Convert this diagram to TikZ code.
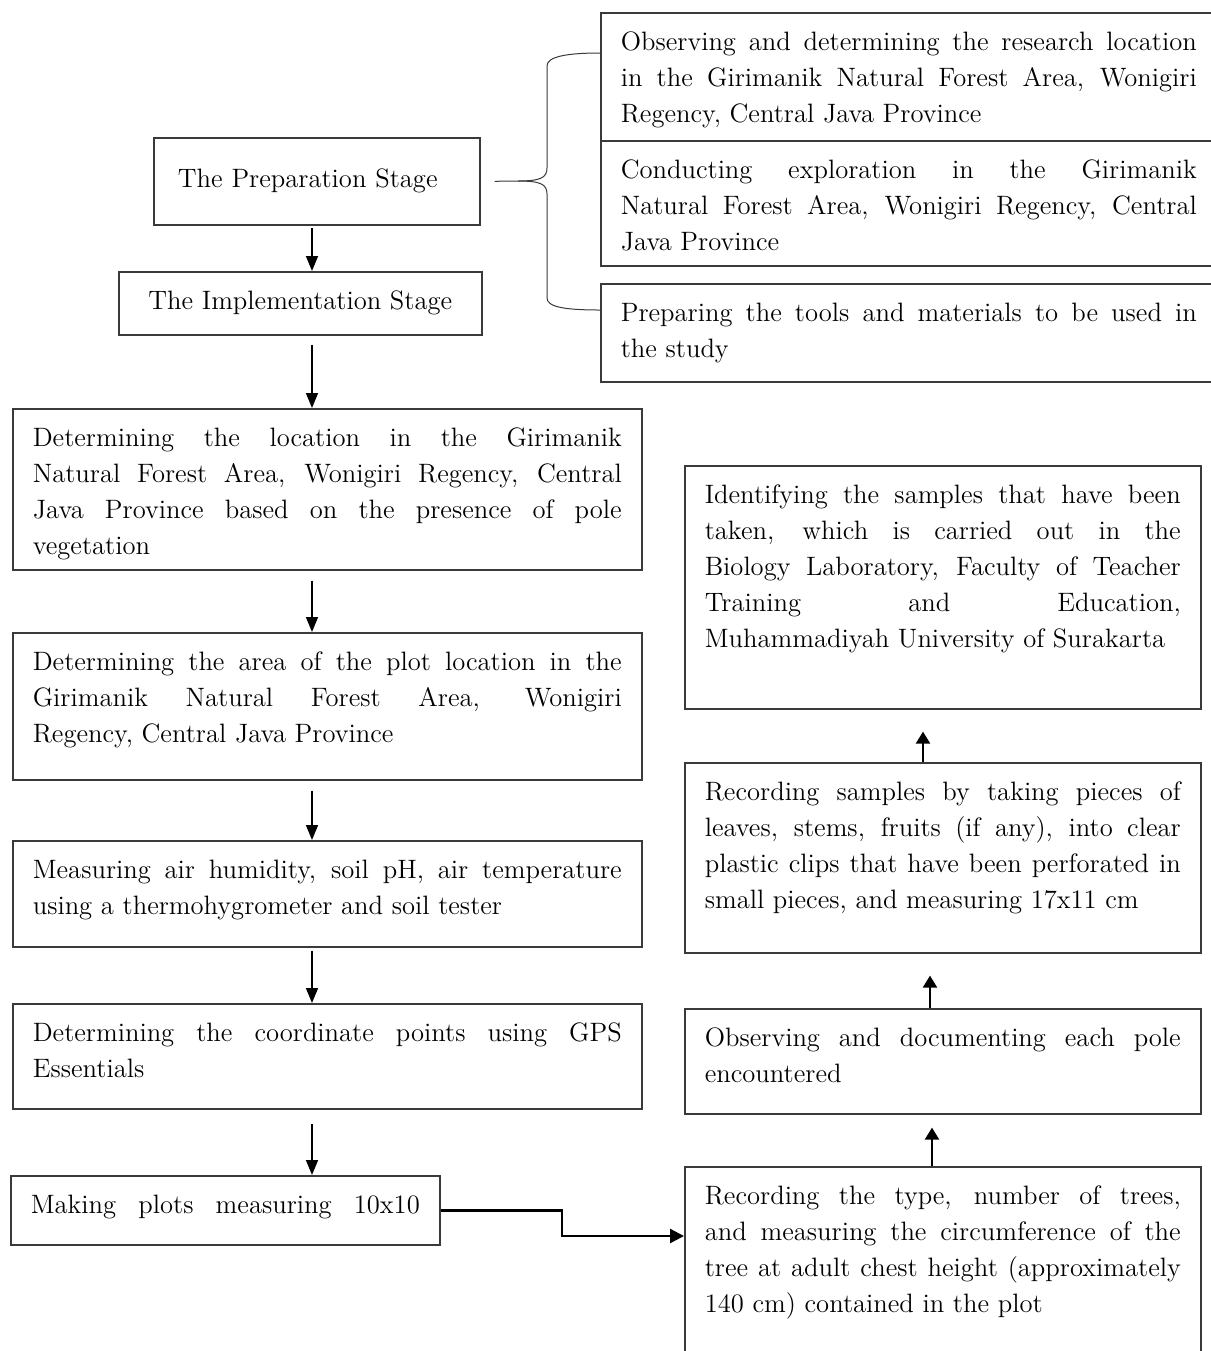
\documentclass[tikz,border=0pt]{standalone}
\usepackage{tikz}
\usetikzlibrary{arrows.meta,calc}
\definecolor{boxline}{HTML}{3A3A3A}
\newcommand{\boxtext}[3]{\parbox[c][#2][t]{#1}{#3}}
\newcommand{\justline}[1]{\makebox[\linewidth][s]{\strut#1}\par}
\newcommand{\plainline}[1]{\strut#1\par}

\begin{document}
\begin{tikzpicture}[
  x=0.5pt, y=-0.5pt,
  font=\fontsize{13.3}{18}\selectfont,
  stagebox/.style={draw=boxline, line width=0.8pt, anchor=north west, inner sep=0pt},
  stepbox/.style={draw=boxline, line width=0.8pt, anchor=north west,
    inner xsep=10pt, inner ysep=6pt},
  downarr/.style={-{Triangle[length=7.5pt,width=6pt]}, line width=0.8pt},
  uparr/.style={-{Triangle[length=6pt,width=7pt]}, line width=1.1pt},
  elbowarr/.style={-{Triangle[length=7pt,width=7pt]}, line width=1.2pt},
  brace/.style={draw=boxline, line width=0.5pt},
]
\path[use as bounding box, fill=white] (0,0) rectangle (1211,1351);
\clip (0,0) rectangle (1211,1351);

% stages
\node[stagebox, minimum width=163pt, minimum height=43.5pt, text width=139pt,
  inner xsep=12pt, text depth=3pt, align=left] (prepstage) at (153,137) {The Preparation Stage};
\node[stagebox, minimum width=181.5pt, minimum height=31.5pt, align=center]
  (implstage) at (118,271) {The Implementation Stage};

% preparation steps
\node[stepbox] (locsurvey) at (600,12) {\boxtext{288pt}{52pt}{%
  \justline{Observing and determining the research location}%
  \justline{in the Girimanik Natural Forest Area, Wonigiri}%
  \plainline{Regency, Central Java Province}}};
\node[stepbox] (explore) at (600,140) {\boxtext{288pt}{50.5pt}{%
  \justline{Conducting exploration in the Girimanik}%
  \justline{Natural Forest Area, Wonigiri Regency, Central}%
  \plainline{Java Province}}};
\node[stepbox] (tools) at (600,283) {\boxtext{288pt}{37pt}{%
  \justline{Preparing the tools and materials to be used in}%
  \plainline{the study}}};

% implementation steps, left column
\node[stepbox] (plotsite) at (12,408) {\boxtext{294.5pt}{68.5pt}{%
  \justline{Determining the location in the Girimanik}%
  \justline{Natural Forest Area, Wonigiri Regency, Central}%
  \justline{Java Province based on the presence of pole}%
  \plainline{vegetation}}};
\node[stepbox] (plotarea) at (12,632) {\boxtext{294.5pt}{61.5pt}{%
  \justline{Determining the area of the plot location in the}%
  \justline{Girimanik Natural Forest Area, Wonigiri}%
  \plainline{Regency, Central Java Province}}};
\node[stepbox] (climate) at (12,840) {\boxtext{294.5pt}{41pt}{%
  \justline{Measuring air humidity, soil pH, air temperature}%
  \plainline{using a thermohygrometer and soil tester}}};
\node[stepbox] (gps) at (12,1003) {\boxtext{294.5pt}{40.5pt}{%
  \justline{Determining the coordinate points using GPS}%
  \plainline{Essentials}}};
\node[stepbox] (plots) at (10,1175) {\boxtext{194.5pt}{22.5pt}{%
  \justline{Making plots measuring 10x10}}};

% implementation steps, right column
\node[stepbox] (identify) at (684,465) {\boxtext{238pt}{109.5pt}{%
  \justline{Identifying the samples that have been}%
  \justline{taken, which is carried out in the}%
  \justline{Biology Laboratory, Faculty of Teacher}%
  \justline{Training and Education,}%
  \plainline{Muhammadiyah University of Surakarta}}};
\node[stepbox] (samplerec) at (684,762) {\boxtext{238pt}{83pt}{%
  \justline{Recording samples by taking pieces of}%
  \justline{leaves, stems, fruits (if any), into clear}%
  \justline{plastic clips that have been perforated in}%
  \plainline{small pieces, and measuring 17x11 cm}}};
\node[stepbox] (poledoc) at (684,1008) {\boxtext{238pt}{40.5pt}{%
  \justline{Observing and documenting each pole}%
  \plainline{encountered}}};
\node[stepbox] (treerec) at (684,1166) {\boxtext{238pt}{88pt}{%
  \justline{Recording the type, number of trees,}%
  \justline{and measuring the circumference of the}%
  \justline{tree at adult chest height (approximately}%
  \plainline{140 cm) contained in the plot}}};

% brace
\coordinate (btip) at ($(prepstage.east)+(14,0)$);
\draw[brace] (btip) -- (518,181) .. controls (540,181) and (547,178) .. (547,168)
  -- (547,66) .. controls (547,57) and (565,53) .. (locsurvey.west |- 0,53);
\draw[brace] (518,181) .. controls (540,181) and (547,184) .. (547,194)
  -- (547,298) .. controls (547,307) and (565,310) .. (tools.west |- 0,310);

% arrows
\coordinate (spine) at (312,0);
\draw[downarr] ($(prepstage.south -| spine)+(0,2)$) -- (implstage.north -| spine);
\draw[downarr] ($(implstage.south -| spine)+(0,9)$) -- (plotsite.north -| spine);
\draw[downarr] ($(plotsite.south -| spine)+(0,10)$) -- (plotarea.north -| spine);
\draw[downarr] ($(plotarea.south -| spine)+(0,10)$) -- (climate.north -| spine);
\draw[downarr] ($(climate.south -| spine)+(0,3)$) -- (gps.north -| spine);
\draw[downarr] ($(gps.south -| spine)+(0,14)$) -- (plots.north -| spine);

\coordinate (bend) at (562,1236);
\draw[elbowarr] (plots.east) -| (bend) -- (bend -| treerec.west);

\coordinate (rsp1) at (923,0);
\coordinate (rsp2) at (930,0);
\coordinate (rsp3) at (932,0);
\draw[uparr] (treerec.north -| rsp3) -- ($(poledoc.south -| rsp3)+(0,13)$);
\draw[uparr] (poledoc.north -| rsp2) -- ($(samplerec.south -| rsp2)+(0,22)$);
\draw[uparr] (samplerec.north -| rsp1) -- ($(identify.south -| rsp1)+(0,22)$);
\end{tikzpicture}
\end{document}
